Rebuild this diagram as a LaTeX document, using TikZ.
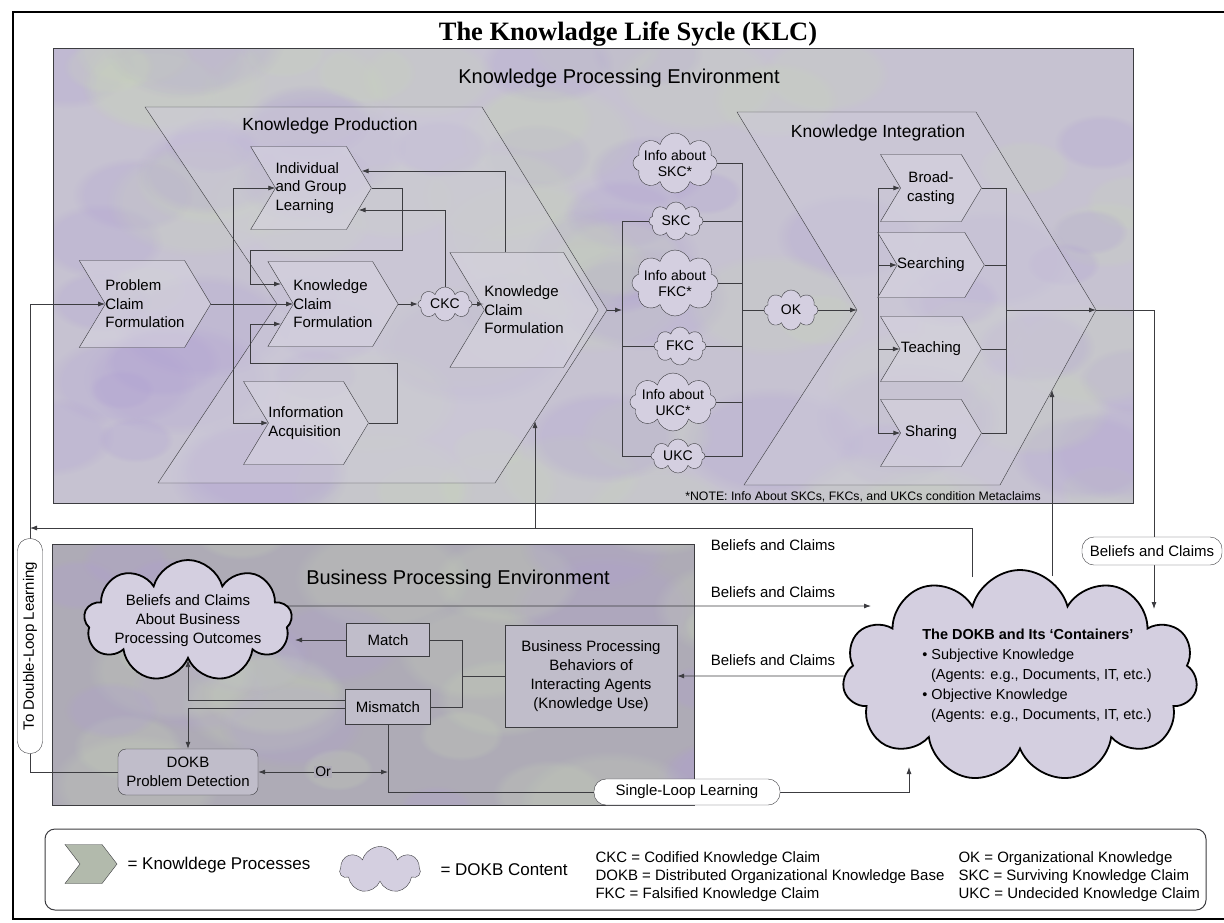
\documentclass[tikz,border=0pt]{standalone}
\usepackage{fontspec}
\setmainfont{Liberation Sans}
\newfontfamily\titlefont{Liberation Serif}
\usetikzlibrary{shapes.symbols,arrows.meta,calc,fadings}

\definecolor{kpebg}{RGB}{198,194,209}
\definecolor{bpebg}{RGB}{174,171,182}
\definecolor{bigfill}{RGB}{208,205,218}
\definecolor{chevfill}{RGB}{214,211,223}
\definecolor{cloudfill}{RGB}{212,207,224}
\definecolor{boxfill}{RGB}{192,189,202}
\definecolor{legchev}{RGB}{178,186,172}
\definecolor{linecol}{RGB}{60,60,64}
\definecolor{blobA}{RGB}{174,156,214}
\definecolor{blobB}{RGB}{202,216,184}

\pgfdeclarelayer{back}
\pgfdeclarelayer{wires}
\pgfsetlayers{back,wires,main}

\tikzset{
  proc/.style={signal, signal to=east, signal from=west, signal pointer angle=118,
    draw=linecol, fill=chevfill, fill opacity=0.6, text opacity=1, inner sep=0pt,
    align=left, font=\fontsize{15}{18.5}\selectfont},
  kcloud/.style={cloud, cloud puffs=8, cloud ignores aspect, draw=linecol,
    fill=cloudfill, inner sep=0pt},
  bigcloud/.style={kcloud, cloud puffs=11, line width=1.8pt, draw=black},
  ctext/.style={font=\fontsize{14}{16}\selectfont, align=center},
  procbox/.style={draw=linecol, fill=boxfill, align=center,
    font=\fontsize{15}{19}\selectfont},
  pill/.style={draw=linecol, fill=white, rounded corners=12pt,
    font=\fontsize{15}{18}\selectfont},
  lbl/.style={font=\fontsize{15}{18}\selectfont},
  wire/.style={draw=linecol, line width=0.8pt},
  arr/.style={wire, -{Latex[length=7pt,width=5pt]}},
  arrboth/.style={wire, {Latex[length=7pt,width=5pt]}-{Latex[length=7pt,width=5pt]}}
}

\begin{document}
\begin{tikzpicture}[x=1pt,y=-1pt]
\useasboundingbox (0,0) rectangle (1224,922);

\begin{pgfonlayer}{back}
\fill[white] (0,0) rectangle (1224,922);
\draw[line width=1.5pt] (1224,12) -- (13,12) -- (13,919) -- (1224,919);
\fill[kpebg] (53,48) rectangle (1133,503);
\fill[bpebg] (52,544) rectangle (694,805);
% mottled paper of the two environments
\pgfmathsetseed{42}
\begin{scope}
\clip (53,48) rectangle (1133,503) (52,544) rectangle (694,805);
\foreach \i in {1,...,150}{
  \pgfmathsetmacro{\mx}{40+1100*rnd}
  \pgfmathsetmacro{\my}{40+780*rnd}
  \pgfmathsetmacro{\mr}{16+32*rnd}
  \ifodd\i \def\mc{blobA}\else\def\mc{blobB}\fi
  \fill[\mc, fill opacity=0.22, path fading=circle with fuzzy edge 20 percent] (\mx,\my) ellipse ({2*\mr} and {1.2*\mr});
}
\end{scope}
\draw[linecol] (53,48) rectangle (1133,503);
\draw[linecol] (52,544) rectangle (694,805);
\draw[linecol, fill=bigfill, fill opacity=0.45] (145,107) -- (482,107) -- (607,310) -- (495,483) -- (158,483) -- (277,304) -- cycle;
\draw[linecol, fill=bigfill, fill opacity=0.45] (737,112) -- (976,112) -- (1096,310) -- (1000,485) -- (744,485) -- (857,310) -- cycle;
\draw[linecol, line width=1pt, rounded corners=10pt] (45,829) rectangle (1206,910);
\end{pgfonlayer}

\coordinate (kptip) at (607,310);
\coordinate (kinotch) at (857,310);
\coordinate (kitip) at (1096,310);
\coordinate (kpB) at (535,421);
\coordinate (kiB) at (1052,390);
\coordinate (inl) at (622,310);
\coordinate (inr) at (742,310);
\coordinate (kil) at (864,310);
\coordinate (kir) at (1006,310);
\coordinate (split) at (233,304);
\coordinate (dlx) at (30,528);
\coordinate (dokbT) at (972,577);
\coordinate (dokbU) at (1052,576);
\coordinate (dokbR) at (1154,609);
\coordinate (dokbL) at (871,606);
\coordinate (dokbB) at (909,767);
\coordinate (bccR) at (295,640);

\node[font=\titlefont\fontsize{26.5}{30}\selectfont\bfseries, anchor=base] (title) at (628,40) {The Knowladge Life Sycle (KLC)};
\node[font=\fontsize{20}{24}\selectfont] (kpe) at (619,78) {Knowledge Processing Environment};
\node[font=\fontsize{17.5}{21}\selectfont] (kpl) at (330,126) {Knowledge Production};
\node[font=\fontsize{17.5}{21}\selectfont] (kil) at (878,133) {Knowledge Integration};
\node[font=\fontsize{20}{24}\selectfont] (bpe) at (458,579) {Business Processing Environment};
\node[font=\fontsize{12.3}{14}\selectfont] (note) at (863,497) {*NOTE: Info About SKCs, FKCs, and UKCs condition Metaclaims};

\node[proc, minimum width=130, minimum height=87] (pcf) at (145,304) {Problem\\Claim\\Formulation};
\node[proc, minimum width=118, minimum height=83] (igl) at (311,188) {Individual\\and Group\\Learning};
\node[proc, minimum width=130, minimum height=85] (kcf1) at (333,304) {Knowledge\\Claim\\Formulation};
\node[proc, minimum width=118, minimum height=83] (ia) at (306,423) {Information\\Acquisition};
\node[proc, minimum width=135, minimum height=115] (kcf2) at (524,310) {Knowledge\\Claim\\Formulation};

\node[proc, minimum width=101, minimum height=67, align=center] (bc) at (931,188) {Broad-\\casting};
\node[proc, minimum width=101, minimum height=65] (sr) at (931,265) {Searching};
\node[proc, minimum width=101, minimum height=65] (tc) at (931,349) {Teaching};
\node[proc, minimum width=101, minimum height=67] (sh) at (931,433) {Sharing};

\node[kcloud, minimum width=54, minimum height=34, label={[ctext]center:CKC}] (ckc) at (445,304) {};
\node[kcloud, minimum width=84, minimum height=60, label={[ctext]center:Info about\\SKC*}] (iskc) at (675,163) {};
\node[kcloud, minimum width=54, minimum height=38, label={[ctext]center:SKC}] (skc) at (676,221) {};
\node[kcloud, minimum width=86, minimum height=66, label={[ctext]center:Info about\\FKC*}] (ifkc) at (675,283) {};
\node[kcloud, minimum width=52, minimum height=38, label={[ctext]center:FKC}] (fkc) at (680,346) {};
\node[kcloud, minimum width=86, minimum height=58, label={[ctext]center:Info about\\UKC*}] (iukc) at (673,402) {};
\node[kcloud, minimum width=54, minimum height=34, label={[ctext]center:UKC}] (ukc) at (678,456) {};
\node[kcloud, minimum width=54, minimum height=40, label={[ctext]center:OK}] (ok) at (791,310) {};

\node[bigcloud, cloud puffs=9, minimum width=208, minimum height=122,
  label={[ctext, font=\fontsize{15}{19}\selectfont]center:Beliefs and Claims\\About Business\\Processing Outcomes}] (bcc) at (188,621) {};
\node[procbox, minimum width=83, minimum height=33] (match) at (388,640) {Match};
\node[procbox, minimum width=85, minimum height=35] (mm) at (388,707) {Mismatch};
\node[procbox, minimum width=172, minimum height=102] (bpb) at (591,676) {Business Processing\\Behaviors of\\Interacting Agents\\(Knowledge Use)};
\node[procbox, rounded corners=8pt, minimum width=140, minimum height=46] (pd) at (188,772) {DOKB\\Problem Detection};

\node[bigcloud, minimum width=355, minimum height=212,
  label={[ctext, align=left, xshift=17pt, font=\fontsize{14.5}{20}\selectfont]center:{\bfseries The DOKB and Its `Containers'}\\%
  \textbullet\ Subjective Knowledge\\\hspace*{0.6em}(Agents: e.g., Documents, IT, etc.)\\%
  \textbullet\ Objective Knowledge\\\hspace*{0.6em}(Agents: e.g., Documents, IT, etc.)}] (dokb) at (1020,676) {};

\node[lbl] (bc1) at (773,545) {Beliefs and Claims};
\node[lbl] (bc2) at (773,592) {Beliefs and Claims};
\node[lbl] (bc3) at (773,660) {Beliefs and Claims};
\node[pill, minimum width=186, minimum height=26] (sll) at (687,792) {Single-Loop Learning};
\node[pill, minimum width=140, minimum height=28] (bcr) at (1152,551) {Beliefs and Claims};
\node[pill, rotate=90, minimum width=215, minimum height=25] (dll) at (30,646) {To Double-Loop Learning};

\node[proc, fill=legchev, fill opacity=1, signal pointer angle=105, minimum width=52, minimum height=39] (lgchev) at (91,864) {};
\node[anchor=west, font=\fontsize{17}{20}\selectfont] (lgt1) at (124,865) {= Knowldege Processes};
\node[kcloud, cloud puffs=7, minimum width=80, minimum height=47] (lgcloud) at (380,870) {};
\node[anchor=west, font=\fontsize{17}{20}\selectfont] (lgt2) at (437,870) {= DOKB Content};
\node[anchor=west, align=left, font=\fontsize{15}{18}\selectfont] (lgt3) at (592,877) {CKC = Codified Knowledge Claim\\DOKB = Distributed Organizational Knowledge Base\\FKC = Falsified Knowledge Claim};
\node[anchor=west, align=left, font=\fontsize{15}{18}\selectfont] (lgt4) at (955,877) {OK = Organizational Knowledge\\SKC = Surviving Knowledge Claim\\UKC = Undecided Knowledge Claim};

\begin{pgfonlayer}{wires}
\draw[arr] (pcf.east) -- (kcf1.west);
\draw[arr] (split) |- (igl.west);
\draw[arr] (split) |- (ia.west);
\draw[arr] (igl.east) -| (402,250) -| (250,284) -- ++(31,0);
\draw[arr] (ia.east) -| (397,363) -| (250,324) -- ++(31,0);
\draw[arr] (kcf1.east) -- (ckc.west);
\draw[arr] (ckc.east) -- (ckc.east -| kcf2.west);
\draw[arr] (ckc.north) |- ($(igl.east)+(-13,22)$);
\draw[arr] ($(kcf2.north)+(-19,0)$) |- ($(igl.east)+(-10,-17)$);

\draw[arr] (kptip) -- (inl);
\draw[wire] (skc.west) -| (inl |- ukc.west) -- (ukc.west);
\draw[wire] (fkc.west) -- (fkc.west -| inl);
\draw[wire] (iskc.east) -| (inr |- ukc.east) -- (ukc.east);
\draw[wire] (skc.east) -- (skc.east -| inr);
\draw[wire] (ifkc.east) -- (ifkc.east -| inr);
\draw[wire] (fkc.east) -- (fkc.east -| inr);
\draw[wire] (iukc.east) -- (iukc.east -| inr);
\draw[wire] (inr) -- (ok.west);
\draw[arr] (ok.east) -- (kinotch);

\draw[wire] (bc.west -| kil) -- (sh.west -| kil);
\draw[arr] (bc.west -| kil) -- (bc.west);
\draw[arr] (sr.west -| kil) -- (sr.west);
\draw[arr] (tc.west -| kil) -- (tc.west);
\draw[arr] (sh.west -| kil) -- (sh.west);
\draw[wire] (bc.east) -| (kir |- sh.east) -- (sh.east);
\draw[wire] (sr.east) -- (sr.east -| kir);
\draw[wire] (tc.east) -- (tc.east -| kir);
\draw[arr] (kir) -- (kitip);

\draw[arr] (kitip) -| (dokbR);
\draw[arr] (dokbU) -- (kiB);
\draw[arr] (dokbT) |- (dlx);
\draw[arr] (kpB |- dlx) -- (kpB);
\draw[arr] ([shift={(-6,-15)}]bcc.east) -- (dokbL);
\draw[arr] (dokb.west) -- (bpb.east);
\draw[arr] (mm.south) |- (dokbB |- sll) -- (dokbB);
\draw[arrboth] (pd.east) -- (pd.east -| mm.south) node[midway, fill=bpebg, inner sep=1pt, font=\fontsize{14}{16}\selectfont] (or) {Or};

\draw[arr] (match.west) -- (bccR);
\draw[wire] (match.east) -| (462,707) -- (mm.east);
\draw[wire] (bpb.west) -- ++(-43,0);
\draw[arr] ([yshift=7pt]mm.west) -| (bcc.south);
\draw[arr] ([yshift=-1pt]mm.west) -| (pd.north);
\draw[arr] (pd.west) -| (dlx |- pcf.west) -- (pcf.west);
\end{pgfonlayer}
\end{tikzpicture}
\end{document}
